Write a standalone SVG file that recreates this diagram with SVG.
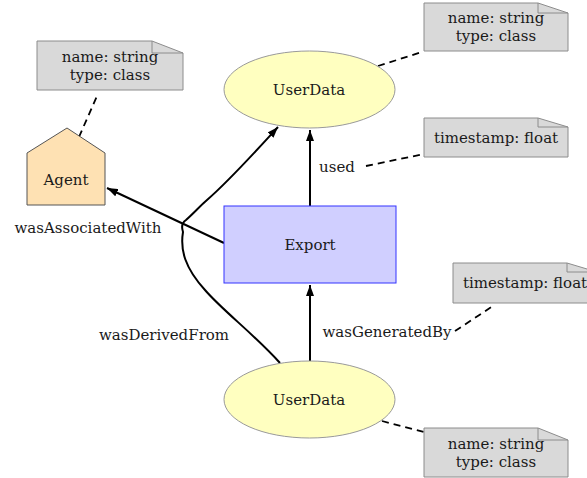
<svg xmlns="http://www.w3.org/2000/svg" width="587" height="478" viewBox="0 0 587 478">
<defs>
<marker id="arr" viewBox="0 0 11 8" refX="11" refY="4" markerWidth="11" markerHeight="8" markerUnits="userSpaceOnUse" orient="auto">
<path d="M0,0 L11,4 L0,8 Z" fill="#000"/>
</marker>
<style>
text{font-family:"DejaVu Serif","Liberation Serif",serif;font-size:15px;fill:#1a1a1a;text-anchor:middle}
.note{fill:#d9d9d9;stroke:#8c8c8c;stroke-width:1}
.fold{fill:none;stroke:#8c8c8c;stroke-width:1}
.ent{fill:#ffffc0;stroke:#9a9a9a;stroke-width:1}
.edge{fill:none;stroke:#000;stroke-width:2}
.dash{fill:none;stroke:#000;stroke-width:1.8;stroke-dasharray:7,5}
</style>
</defs>
<g id="connectors">
<path class="edge" d="M224,243 L107,188" marker-end="url(#arr)"/>
<path class="edge" d="M310,206 L310,130" marker-end="url(#arr)"/>
<path class="edge" d="M310,361 L310,285" marker-end="url(#arr)"/>
<path class="edge" d="M280,363 C255,335 222,310 205,290 C185,268 180,250 183,232 C181,226 183,222 186,220 C195,212 200,206 207,200 C230,180 255,152 278,127" marker-end="url(#arr)"/>
<path class="dash" d="M79,137 L97,96"/>
<path class="dash" d="M378,66 L422,52"/>
<path class="dash" d="M366,166 L424,154"/>
<path class="dash" d="M455,331 L493,306"/>
<path class="dash" d="M382,421 L424,432"/>
<text x="88" y="233">wasAssociatedWith</text>
<text x="337" y="172">used</text>
<text x="164" y="340">wasDerivedFrom</text>
<text x="387" y="337">wasGeneratedBy</text>
</g>
<g id="agent">
<path d="M27,153 L67,128 L105,153 L105,205 L27,205 Z" fill="#fee1b3" stroke="#555" stroke-width="1"/>
<text x="66" y="185">Agent</text>
</g>
<g id="userdata-top">
<ellipse class="ent" cx="309.5" cy="89.5" rx="85.5" ry="38.5"/>
<text x="309" y="95">UserData</text>
</g>
<g id="export">
<rect x="224" y="206" width="172" height="77" fill="#d0cfff" stroke="#3333ff" stroke-width="1"/>
<text x="310" y="250">Export</text>
</g>
<g id="userdata-bottom">
<ellipse class="ent" cx="309.5" cy="399.5" rx="85.5" ry="38.5"/>
<text x="309" y="405">UserData</text>
</g>
<g id="note-agent">
<path class="note" d="M37,41 L152,41 L183,53 L183,90 L37,90 Z"/>
<path class="fold" d="M152,41 L152,53 L183,53"/>
<text x="110" y="62">name: string</text>
<text x="110" y="80">type: class</text>
</g>
<g id="note-top">
<path class="note" d="M424,3 L538,3 L568,13 L568,51 L424,51 Z"/>
<path class="fold" d="M538,3 L538,13 L568,13"/>
<text x="496" y="23">name: string</text>
<text x="496" y="41">type: class</text>
</g>
<g id="note-used">
<path class="note" d="M424,118 L538,118 L568,127 L568,157 L424,157 Z"/>
<path class="fold" d="M538,118 L538,127 L568,127"/>
<text x="496" y="143">timestamp: float</text>
</g>
<g id="note-generated">
<path class="note" d="M453,263 L567,263 L597,272 L597,303 L453,303 Z"/>
<path class="fold" d="M567,263 L567,272 L597,272"/>
<text x="525" y="288">timestamp: float</text>
</g>
<g id="note-bottom">
<path class="note" d="M424,428 L538,428 L568,440 L568,477 L424,477 Z"/>
<path class="fold" d="M538,428 L538,440 L568,440"/>
<text x="496" y="449">name: string</text>
<text x="496" y="467">type: class</text>
</g>
</svg>
